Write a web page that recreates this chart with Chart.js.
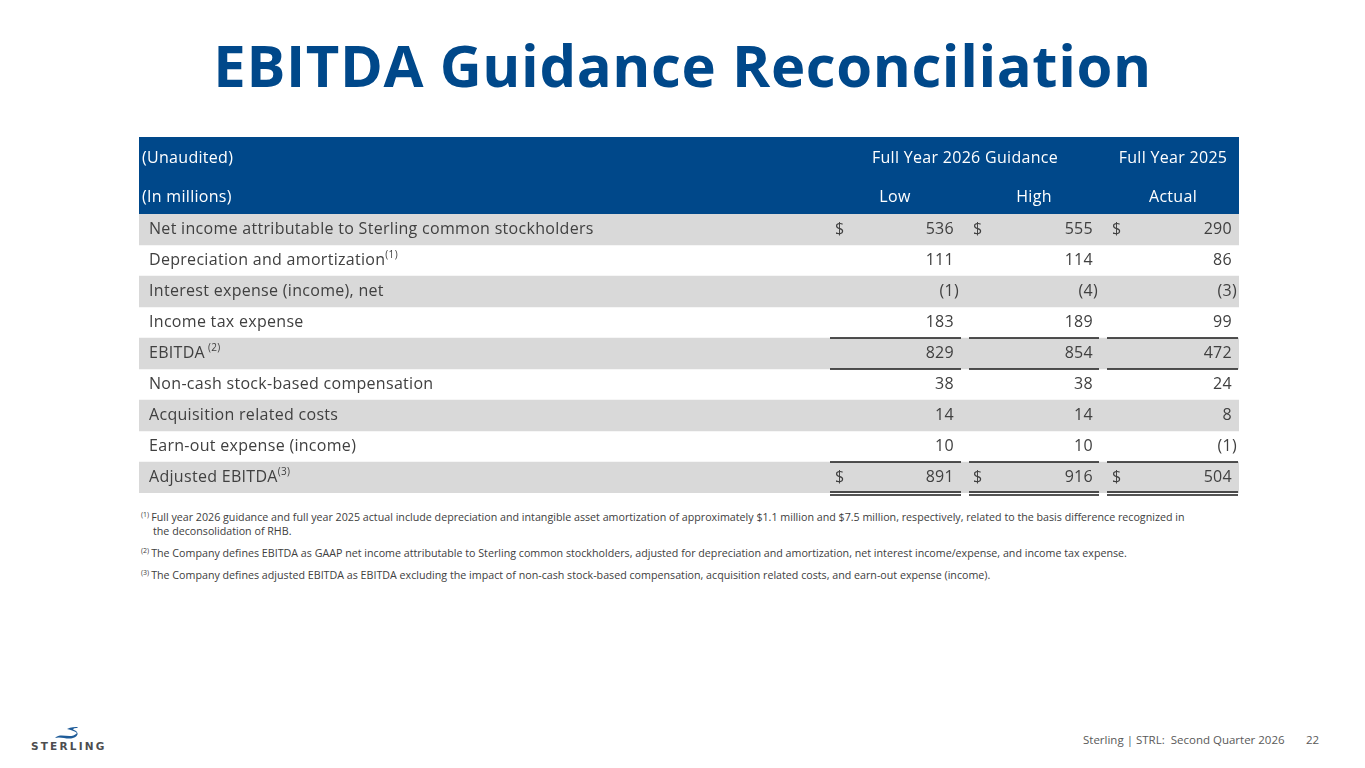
<!DOCTYPE html>
<html>
<head>
<meta charset="utf-8">
<script src="https://cdn.jsdelivr.net/npm/chart.js@4.4.1/dist/chart.umd.min.js"></script>
<style>
  html, body { margin: 0; padding: 0; background: #fff; }
  body { width: 1365px; height: 768px; position: relative; overflow: hidden; font-family: "Open Sans", "Noto Sans", sans-serif; color: #404040; }
  h1 { position: absolute; left: 0; width: 1365px; top: 25px; margin: 0; text-align: center; font-size: 58px; line-height: 80px; font-weight: 700; letter-spacing: 0.6px; color: #00488a; }
  #wrap { position: absolute; left: 139px; top: 137px; width: 1100px; height: 362px; }
  .notes { position: absolute; left: 141px; top: 510px; width: 1100px; font-size: 10.7px; line-height: 14px; color: #404040; }
  .notes p { margin: 0 0 8px 0; padding-left: 12px; text-indent: -12px; }
  .notes sup { font-size: 7px; line-height: 0; vertical-align: 4px; margin-right: 2px; }
  .footer { position: absolute; top: 732px; left: 1083px; font-size: 11.5px; color: #595959; }
  .page { position: absolute; top: 732px; left: 1306px; font-size: 11.5px; color: #595959; }
  .logo { position: absolute; left: 31px; top: 724px; width: 75px; }
  .logo span { position: absolute; top: 16px; left: 0; font-family: "DejaVu Sans", sans-serif; font-weight: 700; font-size: 10.5px; letter-spacing: 2.2px; color: #4d4d4f; }
</style>
</head>
<body>
<h1>EBITDA Guidance Reconciliation</h1>
<div id="wrap"><canvas id="main-chart" width="1100" height="362"></canvas></div>
<div class="notes">
  <p><sup>(1)</sup>Full year 2026 guidance and full year 2025 actual include depreciation and intangible asset amortization of approximately $1.1 million and $7.5 million, respectively, related to the basis difference recognized in<br>the deconsolidation of RHB.</p>
  <p><sup>(2)</sup>The Company defines EBITDA as GAAP net income attributable to Sterling common stockholders, adjusted for depreciation and amortization, net interest income/expense, and income tax expense.</p>
  <p><sup>(3)</sup>The Company defines adjusted EBITDA as EBITDA excluding the impact of non-cash stock-based compensation, acquisition related costs, and earn-out expense (income).</p>
</div>
<div class="logo">
  <svg width="75" height="16" viewBox="0 0 75 16" style="position:absolute;left:0;top:0">
    <path d="M24 14 C30 8, 40 16, 46 9 C44 7, 40 6, 36 5 C40 3, 44 3, 47 3 L46 4 C43 4, 41 5, 43 6 C48 8, 48 12, 42 14 C36 16, 30 12, 24 14 Z" fill="#1f5c99"/>
  </svg>
  <span>STERLING</span>
</div>
<div class="footer">Sterling | STRL:&nbsp; Second Quarter 2026</div>
<div class="page">22</div>
<script>
const rowLabels = [
  "Net income attributable to Sterling common stockholders",
  "Depreciation and amortization",
  "Interest expense (income), net",
  "Income tax expense",
  "EBITDA",
  "Non-cash stock-based compensation",
  "Acquisition related costs",
  "Earn-out expense (income)",
  "Adjusted EBITDA"
];
const rowNotes = ["", "(1)", "", "", " (2)", "", "", "", "(3)"];
const lowValues = [536, 111, -1, 183, 829, 38, 14, 10, 891];
const highValues = [555, 114, -4, 189, 854, 38, 14, 10, 916];
const actualValues = [290, 86, -3, 99, 472, 24, 8, -1, 504];
const dollarRows = [0, 8];
const headerTop = ["(Unaudited)", "Full Year 2026 Guidance", "Full Year 2025"];
const headerBottom = ["(In millions)", "Low", "High", "Actual"];

const ctx = document.getElementById("main-chart").getContext("2d");
const FONT = "'Open Sans', 'Noto Sans', sans-serif";
const BLUE = "#00488a";
const TEXT = "#404040";

// column layout in table units (x scale runs 0..1100)
const cols = [
  { values: lowValues, dollar: 696, right: 815, l: 691, r: 822 },
  { values: highValues, dollar: 834, right: 954, l: 830, r: 960 },
  { values: actualValues, dollar: 973, right: 1093, l: 968, r: 1099 }
];
const singleLineAfter = [3, 4, 7];
const doubleLineAfter = [8];

function fmt(v) {
  return v < 0 ? "(" + Math.abs(v) : String(v);
}

const tablePlugin = {
  id: "tablePlugin",
  beforeDatasetsDraw(chart) {
    const { ctx, chartArea } = chart;
    ctx.save();
    ctx.fillStyle = BLUE;
    ctx.fillRect(chartArea.left, 0, chartArea.right - chartArea.left, chartArea.top);
    ctx.restore();
  },
  afterDatasetsDraw(chart) {
    const { ctx, chartArea } = chart;
    const x = chart.scales.x;
    const y = chart.scales.y;
    const rowH = (chartArea.bottom - chartArea.top) / rowLabels.length;
    ctx.save();
    ctx.textBaseline = "middle";
    ctx.letterSpacing = "0.3px";
    ctx.font = "16px " + FONT;
    ctx.fillStyle = "#ffffff";

    // header
    const h1 = chartArea.top * 0.28;
    const h2 = chartArea.top * 0.78;
    ctx.textAlign = "left";
    ctx.fillText(headerTop[0], x.getPixelForValue(3), h1);
    ctx.fillText(headerBottom[0], x.getPixelForValue(3), h2);
    ctx.textAlign = "center";
    ctx.fillText(headerTop[1], x.getPixelForValue(826), h1);
    ctx.fillText(headerTop[2], x.getPixelForValue(1034), h1);
    ctx.fillText(headerBottom[1], x.getPixelForValue(756), h2);
    ctx.fillText(headerBottom[2], x.getPixelForValue(895), h2);
    ctx.fillText(headerBottom[3], x.getPixelForValue(1034), h2);

    // body
    ctx.fillStyle = TEXT;
    rowLabels.forEach((label, i) => {
      const py = y.getPixelForValue(i);
      ctx.font = "16px " + FONT;
      ctx.textAlign = "left";
      const lx = x.getPixelForValue(10);
      ctx.fillText(label, lx, py);
      if (rowNotes[i]) {
        const w = ctx.measureText(label).width;
        ctx.font = "10px " + FONT;
        ctx.fillText(rowNotes[i], lx + w, py - 5);
        ctx.font = "16px " + FONT;
      }
      cols.forEach((c) => {
        const v = c.values[i];
        if (dollarRows.includes(i)) {
          ctx.textAlign = "left";
          ctx.fillText("$", x.getPixelForValue(c.dollar), py);
        }
        ctx.textAlign = "right";
        ctx.fillText(fmt(v), x.getPixelForValue(c.right), py);
        if (v < 0) {
          ctx.textAlign = "left";
          ctx.fillText(")", x.getPixelForValue(c.right), py);
        }
      });
    });

    // rules
    ctx.strokeStyle = "#1a1a1a";
    ctx.lineWidth = 1.5;
    cols.forEach((c) => {
      const l = x.getPixelForValue(c.l);
      const r = x.getPixelForValue(c.r);
      singleLineAfter.forEach((i) => {
        const py = Math.round(y.getPixelForValue(i) + rowH / 2);
        ctx.beginPath(); ctx.moveTo(l, py); ctx.lineTo(r, py); ctx.stroke();
      });
      doubleLineAfter.forEach((i) => {
        const py = Math.round(y.getPixelForValue(i) + rowH / 2);
        ctx.beginPath(); ctx.moveTo(l, py - 1); ctx.lineTo(r, py - 1); ctx.stroke();
        ctx.beginPath(); ctx.moveTo(l, py + 2); ctx.lineTo(r, py + 2); ctx.stroke();
      });
    });
    ctx.restore();
  }
};

new Chart(ctx, {
  type: "bar",
  data: {
    labels: rowLabels,
    datasets: [
      {
        data: rowLabels.map((_, i) => (i % 2 === 0 ? [0, 1100] : null)),
        backgroundColor: "#d9d9d9",
        borderWidth: 0,
        barPercentage: 1,
        categoryPercentage: 1,
      },
    ],
  },
  plugins: [tablePlugin],
  options: {
    indexAxis: "y",
    responsive: false,
    animation: false,
    layout: { padding: { top: 77, bottom: 6, left: 0, right: 0 } },
    scales: {
      x: { type: "linear", min: 0, max: 1100, display: false },
      y: { display: false },
    },
    plugins: {
      legend: { display: false },
      tooltip: { enabled: false },
    },
  },
});
</script>
</body>
</html>
